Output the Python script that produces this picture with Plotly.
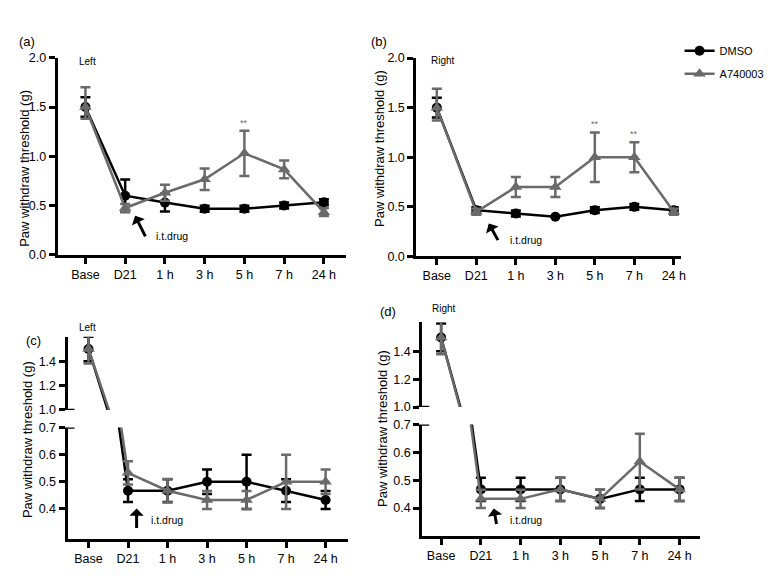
import plotly.graph_objects as go

# 图的尺寸（像素），用于把版面位置换算成 paper 坐标
W, H = 770, 576


def fx(p):
    return p / W


def fy(p):
    return 1 - p / H


# 时间点
labels = ["Base", "D21", "1 h", "3 h", "5 h", "7 h", "24 h"]
xs = list(range(len(labels)))

# (a) Left
a_dmso = [1.5, 0.6, 0.53, 0.467, 0.467, 0.5, 0.533]
a_dmso_err = [0.1, 0.165, 0.09, 0.03, 0.03, 0.03, 0.03]
a_drug = [1.5, 0.475, 0.63, 0.767, 1.03, 0.867, 0.433]
a_drug_up = [0.2, 0.04, 0.08, 0.11, 0.23, 0.09, 0.04]
a_drug_dn = [0.12, 0.04, 0.08, 0.11, 0.23, 0.09, 0.04]

# (b) Right
b_dmso = [1.5, 0.467, 0.433, 0.4, 0.467, 0.5, 0.467]
b_dmso_err = [0.1, 0.03, 0.03, 0.0, 0.03, 0.03, 0.03]
b_drug = [1.5, 0.45, 0.7, 0.7, 1.0, 1.0, 0.45]
b_drug_up = [0.19, 0.03, 0.1, 0.1, 0.25, 0.15, 0.03]
b_drug_dn = [0.13, 0.03, 0.1, 0.1, 0.25, 0.15, 0.03]

# (c) Left
c_dmso = [1.5, 0.467, 0.467, 0.5, 0.5, 0.467, 0.433]
c_dmso_err = [0.1, 0.042, 0.042, 0.045, 0.1, 0.042, 0.033]
c_drug = [1.5, 0.533, 0.467, 0.433, 0.433, 0.5, 0.5]
c_drug_up = [0.2, 0.043, 0.043, 0.033, 0.033, 0.1, 0.045]
c_drug_dn = [0.12, 0.043, 0.043, 0.033, 0.033, 0.1, 0.045]

# (d) Right
d_dmso = [1.5, 0.467, 0.467, 0.467, 0.433, 0.467, 0.467]
d_dmso_err = [0.1, 0.042, 0.042, 0.042, 0.033, 0.042, 0.042]
d_drug = [1.5, 0.433, 0.433, 0.467, 0.433, 0.567, 0.467]
d_drug_up = [0.2, 0.033, 0.033, 0.042, 0.033, 0.1, 0.042]
d_drug_dn = [0.12, 0.033, 0.033, 0.042, 0.033, 0.1, 0.042]

BLACK = "black"
GRAY = "#6a6a6a"
FONT = "Liberation Sans, Arial, sans-serif"

fig = go.Figure()


def add_pair(xa, ya, dmso, dmso_err, drug, drug_up, drug_dn, legend=False):
    # DMSO 在下，A740003 画在上面
    fig.add_trace(go.Scatter(
        x=xs, y=dmso, xaxis=xa, yaxis=ya, name="DMSO", mode="lines+markers",
        line=dict(color=BLACK, width=2.5),
        marker=dict(symbol="circle", size=10, color=BLACK),
        error_y=dict(type="data", array=dmso_err, color=BLACK, thickness=2.5, width=5),
        showlegend=legend, legendgroup="DMSO"))
    fig.add_trace(go.Scatter(
        x=xs, y=drug, xaxis=xa, yaxis=ya, name="A740003", mode="lines+markers",
        line=dict(color=GRAY, width=2.5),
        marker=dict(symbol="triangle-up", size=11, color=GRAY),
        error_y=dict(type="data", array=drug_up, arrayminus=drug_dn, color=GRAY,
                     thickness=2.5, width=5),
        showlegend=legend, legendgroup="A740003"))


add_pair("x", "y", a_dmso, a_dmso_err, a_drug, a_drug_up, a_drug_dn)
add_pair("x2", "y2", b_dmso, b_dmso_err, b_drug, b_drug_up, b_drug_dn, legend=True)
# 断轴：上下两段各画一次
add_pair("x3", "y3", c_dmso, c_dmso_err, c_drug, c_drug_up, c_drug_dn)
add_pair("x3", "y4", c_dmso, c_dmso_err, c_drug, c_drug_up, c_drug_dn)
add_pair("x4", "y5", d_dmso, d_dmso_err, d_drug, d_drug_up, d_drug_dn)
add_pair("x4", "y6", d_dmso, d_dmso_err, d_drug, d_drug_up, d_drug_dn)

axis_style = dict(showline=True, linewidth=3, linecolor=BLACK, ticks="outside",
                  ticklen=6, tickwidth=2.5, tickcolor=BLACK, showgrid=False,
                  zeroline=False, tickfont=dict(size=12.5, color=BLACK, family=FONT))

x_style = dict(axis_style, tickvals=xs, ticktext=labels)

fig.update_layout(
    width=W, height=H, margin=dict(l=0, r=0, t=0, b=0),
    paper_bgcolor="white", plot_bgcolor="white",
    font=dict(family=FONT, color=BLACK),
    xaxis=dict(x_style, domain=[fx(58), fx(348)], range=[-0.7, 6.55], anchor="y"),
    yaxis=dict(axis_style, domain=[fy(254), fy(52)], range=[0, 2.0], dtick=0.5,
               tickformat=".1f", anchor="x"),
    xaxis2=dict(x_style, domain=[fx(419), fx(685)], range=[-0.52, 6.17], anchor="y2"),
    yaxis2=dict(axis_style, domain=[fy(255.7), fy(52.3)], range=[0, 2.0], dtick=0.5,
                tickformat=".1f", anchor="x2"),
    xaxis3=dict(x_style, domain=[fx(68), fx(350)], range=[-0.53, 6.56], anchor="y3"),
    yaxis3=dict(axis_style, domain=[fy(545), fy(431)], range=[0.29, 0.7],
                tickvals=[0.4, 0.5, 0.6, 0.7], tickformat=".1f", anchor="x3"),
    yaxis4=dict(axis_style, domain=[fy(413), fy(338)], range=[1.0, 1.6],
                tickvals=[1.0, 1.2, 1.4], tickformat=".1f", anchor="x3"),
    xaxis4=dict(x_style, domain=[fx(425), fx(705)], range=[-0.475, 6.525], anchor="y5"),
    yaxis5=dict(axis_style, domain=[fy(542), fy(428)], range=[0.3, 0.7],
                tickvals=[0.4, 0.5, 0.6, 0.7], tickformat=".1f", anchor="x4"),
    yaxis6=dict(axis_style, domain=[fy(410), fy(323)], range=[1.0, 1.61],
                tickvals=[1.0, 1.2, 1.4], tickformat=".1f", anchor="x4"),
    legend=dict(x=fx(684), y=fy(30), xanchor="left", yanchor="top",
                font=dict(size=11, color=BLACK), bgcolor="rgba(0,0,0,0)",
                tracegroupgap=4),
)

# 断轴处的短横线
for xp, yr, val in [(68, "y4", 1.0), (68, "y3", 0.7), (425, "y6", 1.0), (425, "y5", 0.7)]:
    fig.add_shape(type="line", xref="paper", yref=yr, x0=fx(xp - 6), x1=fx(xp + 7),
                  y0=val, y1=val, line=dict(color=BLACK, width=2.5))

ann = []


def text(px_x, px_y, s, size=12, anchor="left", color=BLACK, angle=0):
    ann.append(dict(x=fx(px_x), y=fy(px_y), xref="paper", yref="paper", text=s,
                    showarrow=False, xanchor=anchor, yanchor="middle", textangle=angle,
                    font=dict(size=size, color=color, family=FONT)))


def arrow(hx, hy, dx, dy):
    ann.append(dict(x=fx(hx), y=fy(hy), xref="paper", yref="paper", text="",
                    showarrow=True, ax=dx, ay=dy, axref="pixel", ayref="pixel",
                    arrowhead=1, arrowsize=0.8, arrowwidth=3, arrowcolor=BLACK))


# 面板标号
text(17, 35, "(a)", 13)
text(371, 35, "(b)", 13)
text(24, 342, "(c)", 13)
text(380, 312, "(d)", 13)

# Left / Right
text(77, 56, "Left", 10)
text(432, 55, "Right", 10)
text(78, 328, "Left", 10)
text(433, 309, "Right", 10)

# y 轴标题
ytitle = "Paw withdraw threshold (g)"
text(25, 165, ytitle, 13, "center", angle=-90)
text(382, 145, ytitle, 13, "center", angle=-90)
text(27, 443, ytitle, 13, "center", angle=-90)
text(385, 432, ytitle, 13, "center", angle=-90)

# 给药箭头
arrow(136, 214, 11, 22)
text(155, 235, "i.t.drug", 10.5)
arrow(492, 222, 10, 18)
text(511, 239, "i.t.drug", 10.5)
arrow(137.5, 514, 0, 21)
text(150, 526, "i.t.drug", 10.5)
arrow(497, 514, 3, 17)
text(511, 526, "i.t.drug", 10.5)

# 显著性标记
for xa, ya, i, top in [("x", "y", 4, a_drug[4] + a_drug_up[4]),
                       ("x2", "y2", 4, b_drug[4] + b_drug_up[4]),
                       ("x2", "y2", 5, b_drug[5] + b_drug_up[5])]:
    ann.append(dict(x=xs[i], y=top, xref=xa, yref=ya, text="**", showarrow=False,
                    yanchor="bottom", yshift=1, font=dict(size=9, color=GRAY, family=FONT)))

fig.update_layout(annotations=ann)

# 去掉页面默认的 8px 边距，让图正好铺满窗口；不显示工具栏
fig.write_html("out.html", config={"displayModeBar": False},
               post_script="document.body.style.margin='0';")
